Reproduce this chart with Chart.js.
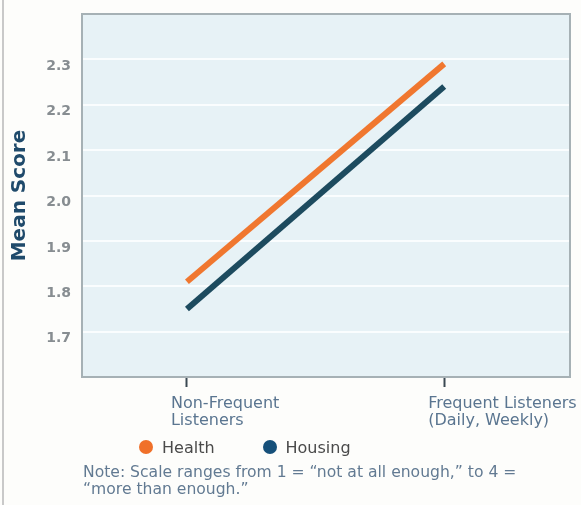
<!DOCTYPE html>
<html>
<head>
<meta charset="utf-8">
<script src="https://cdn.jsdelivr.net/npm/chart.js@4"></script>
<style>
  html, body { margin: 0; padding: 0; background: #fdfdfb; }
  #wrap { position: relative; width: 581px; height: 505px; overflow: hidden; font-family: "DejaVu Sans", sans-serif; }
  #frame { position: absolute; left: 2px; top: 0; width: 2px; height: 505px; background: #c9c9c9; }
  #legend { position: absolute; left: 139px; top: 437px; height: 20px; display: flex; align-items: center; font-size: 16px; color: #4a4a4a; }
  #legend .item { display: flex; align-items: center; margin-right: 48px; }
  #legend .dot { width: 14px; height: 14px; border-radius: 50%; margin-right: 9px; }
  #note { position: absolute; left: 83px; top: 464px; font-size: 15.6px; line-height: 17px; color: #627a92; white-space: nowrap; }
</style>
</head>
<body>
<div id="wrap">
  <canvas id="chart" width="581" height="505"></canvas>
  <div id="frame"></div>
  <div id="legend"></div>
  <div id="note">Note: Scale ranges from 1 = “not at all enough,” to 4 =<br>“more than enough.”</div>
</div>
<script>
// data
const categories = [['Non-Frequent', 'Listeners'], ['Frequent Listeners', '(Daily, Weekly)']];
const seriesNames = ['Health', 'Housing'];
const healthValues = [1.81, 2.29];
const housingValues = [1.75, 2.24];
const yTicks = [1.7, 1.8, 1.9, 2.0, 2.1, 2.2, 2.3];

const lineColors = ['#f0772f', '#1d4b5f'];
const dotColors = ['#f07029', '#16507a'];

const toPoints = vals => vals.map((v, i) => ({ x: i, y: v }));

// plot background, frame and the offset tick labels
const plotDecor = {
  id: 'plotDecor',
  beforeDraw(chart) {
    const { ctx, chartArea: a } = chart;
    ctx.save();
    ctx.fillStyle = '#e7f2f6';
    ctx.fillRect(a.left, a.top, a.right - a.left, a.bottom - a.top);
    ctx.restore();
  },
  afterDraw(chart) {
    const { ctx, chartArea: a, scales } = chart;
    ctx.save();
    ctx.strokeStyle = '#a6b1b5';
    ctx.lineWidth = 2;
    ctx.strokeRect(a.left, a.top, a.right - a.left, a.bottom - a.top);

    // y labels sit a little below their grid lines in the original
    ctx.fillStyle = '#878d91';
    ctx.font = 'bold 14px "DejaVu Sans"';
    ctx.textAlign = 'right';
    ctx.textBaseline = 'middle';
    yTicks.forEach(v => {
      ctx.fillText(v.toFixed(1), 71, scales.y.getPixelForValue(v) + 7);
    });

    // x labels start just left of their tick
    ctx.fillStyle = '#5a7590';
    ctx.font = '16px "DejaVu Sans"';
    ctx.textAlign = 'left';
    ctx.textBaseline = 'alphabetic';
    categories.forEach((lines, i) => {
      const x = scales.x.getPixelForValue(i) - 16;
      lines.forEach((t, j) => ctx.fillText(t, x, 408 + j * 17));
    });
    ctx.restore();
  }
};

const chart = new Chart(document.getElementById('chart'), {
  type: 'line',
  plugins: [plotDecor],
  data: {
    datasets: [
      { label: seriesNames[0], data: toPoints(healthValues), borderColor: lineColors[0], backgroundColor: dotColors[0] },
      { label: seriesNames[1], data: toPoints(housingValues), borderColor: lineColors[1], backgroundColor: dotColors[1] },
    ],
  },
  options: {
    responsive: false,
    animation: false,
    layout: { padding: { top: 14, right: 11, bottom: 88, left: 0 } },
    elements: {
      line: { borderWidth: 6, tension: 0 },
      point: { radius: 0, hoverRadius: 0 },
    },
    plugins: {
      legend: { display: false },
      tooltip: { enabled: false },
    },
    scales: {
      x: {
        type: 'linear',
        min: -0.408,
        max: 1.489,
        afterBuildTicks: s => { s.ticks = categories.map((c, i) => ({ value: i })); },
        afterFit: s => { s.height = 40; },
        ticks: { display: false },
        grid: { drawOnChartArea: false, drawTicks: true, tickLength: 10, tickWidth: 2, tickColor: '#3a4852' },
        border: { display: false },
      },
      y: {
        min: 1.6,
        max: 2.4,
        afterBuildTicks: s => { s.ticks = yTicks.map(v => ({ value: v })); },
        afterFit: s => { s.width = 82; },
        ticks: { display: false },
        grid: { color: '#fafdfe', lineWidth: 2, drawTicks: false },
        border: { display: false },
        title: {
          display: true,
          text: 'Mean Score',
          color: '#1f4a6b',
          font: { family: 'DejaVu Sans', size: 20, weight: 'bold' },
          padding: { top: 8, bottom: 0 },
        },
      },
    },
  },
});

// legend below the axis, built from the datasets
const legend = document.getElementById('legend');
chart.data.datasets.forEach(ds => {
  const item = document.createElement('span');
  item.className = 'item';
  const dot = document.createElement('span');
  dot.className = 'dot';
  dot.style.background = ds.backgroundColor;
  item.appendChild(dot);
  item.appendChild(document.createTextNode(ds.label));
  legend.appendChild(item);
});
</script>
</body>
</html>
